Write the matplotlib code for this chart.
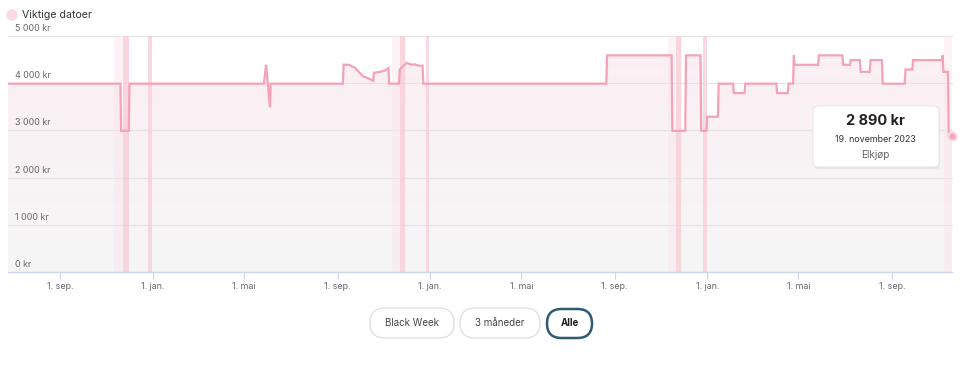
import numpy as np
import matplotlib
matplotlib.use("Agg")
import matplotlib.pyplot as plt
import matplotlib.dates as mdates
from matplotlib.patches import FancyBboxPatch
from datetime import datetime

plt.rcParams['font.family'] = ['Inter', 'DejaVu Sans']

# Price history (kr), one point per observation
price_dates = [
    "2020-06-24", "2020-11-19", "2020-11-20", "2020-11-30", "2020-12-01",
    "2021-05-27", "2021-05-30", "2021-06-04", "2021-06-05",
    "2021-09-08", "2021-09-09", "2021-09-16", "2021-09-18", "2021-09-24", "2021-09-29",
    "2021-10-05", "2021-10-12", "2021-10-18", "2021-10-19", "2021-10-27", "2021-11-03",
    "2021-11-07", "2021-11-08",
    "2021-11-21", "2021-11-22", "2021-11-25", "2021-12-01", "2021-12-08", "2021-12-12",
    "2021-12-17", "2021-12-22", "2021-12-23",
    "2022-08-21", "2022-08-22", "2022-11-15", "2022-11-16", "2022-12-03", "2022-12-04",
    "2022-12-23", "2022-12-24", "2022-12-31",
    "2023-01-01", "2023-01-15", "2023-01-16", "2023-02-04", "2023-02-05", "2023-02-19",
    "2023-02-20", "2023-04-02", "2023-04-03", "2023-04-17", "2023-04-18", "2023-04-24",
    "2023-04-25", "2023-04-26", "2023-05-27", "2023-05-28", "2023-06-28", "2023-06-29",
    "2023-07-08", "2023-07-09", "2023-07-21", "2023-07-22", "2023-08-03", "2023-08-04",
    "2023-08-19", "2023-08-20", "2023-09-18", "2023-09-19", "2023-09-28", "2023-09-29",
    "2023-11-06", "2023-11-07", "2023-11-08", "2023-11-14", "2023-11-15", "2023-11-19",
]
prices = [
    3990, 3990, 2990, 2990, 3990,
    3990, 4390, 3490, 3990,
    3990, 4390, 4390, 4370, 4330, 4240,
    4140, 4100, 4050, 4220, 4240, 4270,
    4320, 3990,
    3990, 4290, 4340, 4430, 4390, 4400,
    4370, 4370, 3990,
    3990, 4590, 4590, 2990, 2990, 4590,
    4590, 2990, 2990,
    3290, 3290, 3990, 3990, 3790, 3790,
    3990, 3990, 3790, 3790, 3990, 3990,
    4590, 4390, 4390, 4590, 4590, 4390,
    4390, 4490, 4490, 4240, 4240, 4490,
    4490, 3990, 3990, 4290, 4290, 4490,
    4490, 4590, 4240, 4240, 2890, 2890,
]

# "Viktige datoer" (important dates)
sale_start = ["2020-11-11", "2021-11-12", "2022-11-10", "2023-11-09"]
sale_end = ["2020-12-01", "2021-11-30", "2022-11-29", "2023-11-20"]
black_week_start = ["2020-11-23", "2021-11-22", "2022-11-21"]
black_week_end = ["2020-11-30", "2021-11-29", "2022-11-28"]
romjul_start = ["2020-12-26", "2021-12-26", "2022-12-26"]
romjul_end = ["2020-12-31", "2021-12-31", "2022-12-31"]

y_ticks = [0, 1000, 2000, 3000, 4000, 5000]
y_labels = ["0 kr", "1 000 kr", "2 000 kr", "3 000 kr", "4 000 kr", "5 000 kr"]
x_tick_dates = ["2020-09-01", "2021-01-01", "2021-05-01", "2021-09-01", "2022-01-01",
                "2022-05-01", "2022-09-01", "2023-01-01", "2023-05-01", "2023-09-01"]
x_tick_labels = ["1. sep.", "1. jan.", "1. mai", "1. sep.", "1. jan.",
                 "1. mai", "1. sep.", "1. jan.", "1. mai", "1. sep."]

buttons = ["Black Week", "3 måneder", "Alle"]

LINE = "#f4a3b6"
W, H = 960, 366


def d(s):
    return mdates.date2num(datetime.strptime(s, "%Y-%m-%d"))


def inch(x, y):
    # pixel position (top-left origin) -> inches for dpi_scale_trans
    return x / 100, (H - y) / 100


fig = plt.figure(figsize=(W / 100, H / 100), dpi=100)
ax = fig.add_axes([8 / W, (H - 272) / H, 944 / W, 236 / H])

x = np.array([d(s) for s in price_dates])
y = np.array(prices, dtype=float)
x0, x1 = d("2020-06-24"), d("2023-11-19") + 0.3

# gradient fill under the line
fill = ax.fill_between(x, y, 0, color="none", lw=0)
top_c = np.array([252, 239, 243]) / 255
bot_c = np.array([246, 246, 247]) / 255
t = np.linspace(0, 1, 256).reshape(-1, 1, 1)
img = bot_c * (1 - t) + top_c * t
im = ax.imshow(img, extent=[x0, x1, 0, 5000], aspect="auto", origin="lower", zorder=1)
im.set_clip_path(fill.get_paths()[0], transform=ax.transData)

# important date bands
for s, e in zip(sale_start, sale_end):
    ax.axvspan(d(s), d(e), color="#fbe3e9", alpha=0.4, lw=0, zorder=2)
for s, e in zip(black_week_start, black_week_end):
    ax.axvspan(d(s), d(e), color="#f8cdd7", alpha=0.75, lw=0, zorder=2)
for s, e in zip(romjul_start, romjul_end):
    ax.axvspan(d(s), d(e), color="#f8cdd7", alpha=0.75, lw=0, zorder=2)

# grid lines and inner y labels
for v, lab in zip(y_ticks, y_labels):
    if v > 0:
        ax.axhline(v, color="#e3e3e3", lw=0.8, zorder=1.5, clip_on=False)
    ax.annotate(lab, xy=(0, v), xycoords=("axes fraction", "data"), xytext=(7, 3),
                textcoords="offset pixels", ha="left", va="bottom",
                fontsize=6.4, color="#666666", zorder=5)

ax.plot(x, y, color=LINE, lw=1.6, zorder=4, solid_joinstyle="miter")
ax.plot([x[-1]], [y[-1]], "o", ms=6, color="#f5a9bb", mec="#fbdbe3", mew=1.5,
        zorder=6, clip_on=False)

ax.set_xlim(x0, x1)
ax.set_ylim(0, 5000)
ax.set_yticks([])
ax.set_xticks([d(s) for s in x_tick_dates])
ax.set_xticklabels(x_tick_labels, fontsize=6.4, color="#666666")
ax.tick_params(axis="x", length=5, width=0.8, color="#ccd6eb", pad=2)
for side in ["top", "left", "right"]:
    ax.spines[side].set_visible(False)
ax.spines["bottom"].set_color("#ccd6eb")
ax.spines["bottom"].set_linewidth(1)
ax.set_facecolor("white")

# legend
fig.patches.append(plt.Circle(inch(12, 15), 5 / 100, color="#fbdbe3",
                              transform=fig.dpi_scale_trans))
fig.text(22 / W, 1 - 15 / H, "Viktige datoer", fontsize=7.6, color="#333333",
         ha="left", va="center")

# tooltip
tx, ty, tw, th = 813, 106, 126, 61
shadow = FancyBboxPatch(inch(tx + 1, ty + th + 2), tw / 100, th / 100,
                        boxstyle="round,pad=0,rounding_size=0.05",
                        transform=fig.dpi_scale_trans, fc="#000000", alpha=0.06,
                        ec="none", zorder=8)
box = FancyBboxPatch(inch(tx, ty + th), tw / 100, th / 100,
                     boxstyle="round,pad=0,rounding_size=0.05",
                     transform=fig.dpi_scale_trans, fc="white", ec="#e8e8e8",
                     lw=0.8, zorder=9)
fig.patches.extend([shadow, box])
fig.text(875 / W, 1 - 121 / H, "2 890 kr", fontsize=10.5, fontweight="bold",
         color="#222222", ha="center", va="center", zorder=10)
fig.text(875 / W, 1 - 139 / H, "19. november 2023", fontsize=6.4,
         color="#333333", ha="center", va="center", zorder=10)
fig.text(875 / W, 1 - 155.5 / H, "Elkjøp", fontsize=7.2,
         color="#666666", ha="center", va="center", zorder=10)

# range buttons
btn_boxes = [(370, 308, 84, 30), (460, 308, 80, 30), (547, 309, 45, 29)]
for lab, (bx, by, bw, bh) in zip(buttons, btn_boxes):
    active = lab == "Alle"
    p = FancyBboxPatch(inch(bx, by + bh), bw / 100, bh / 100,
                       boxstyle="round,pad=0,rounding_size=%.3f" % (bh / 200),
                       transform=fig.dpi_scale_trans, fc="white",
                       ec="#2c5b72" if active else "#dddddd",
                       lw=1.8 if active else 0.9)
    fig.patches.append(p)
    fig.text((bx + bw / 2) / W, 1 - (by + bh / 2) / H, lab, fontsize=7,
             color="#222222" if active else "#444444",
             fontweight="bold" if active else "normal", ha="center", va="center")

fig.savefig("out.png", dpi=100, facecolor="white")
